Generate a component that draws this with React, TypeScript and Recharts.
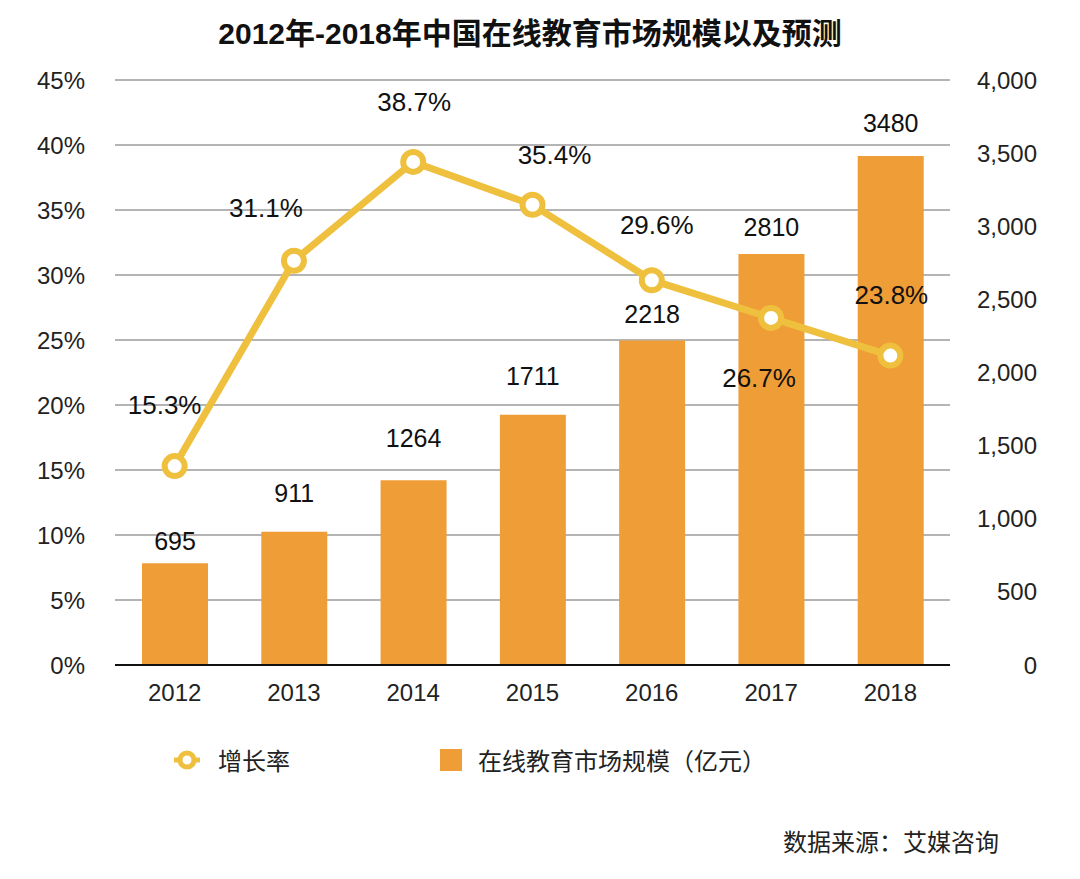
import React from 'react';
import { ComposedChart, Bar, Line, XAxis, YAxis, CartesianGrid, LabelList } from 'recharts';

// values
const years = ['2012', '2013', '2014', '2015', '2016', '2017', '2018'];
const marketSize = [695, 911, 1264, 1711, 2218, 2810, 3480]; // 亿元
const growthRate = [15.3, 31.1, 38.7, 35.4, 29.6, 26.7, 23.8]; // %
const rateTicks = [0, 5, 10, 15, 20, 25, 30, 35, 40, 45];
const sizeTicks = [0, 500, 1000, 1500, 2000, 2500, 3000, 3500, 4000];

// label nudges (layout only)
const rateLabelShift = [[-10, -61], [-28, -53], [1, -60], [22, -50], [5, -55], [-12, 60], [1, -61]];
const barLabelLift = [13, 30, 33, 30, 18, 18, 24];

const BAR_COLOR = '#EF9D36';
const LINE_COLOR = '#EEC03E';
const FONT = '"Liberation Sans", "Noto Sans CJK SC", Arial, sans-serif';

const data = years.map((year, i) => ({
  year,
  size: marketSize[i],
  rate: growthRate[i]
}));

const RateLabel = (props: any) => {
  const { x, y, index, value } = props;
  const [dx, dy] = rateLabelShift[index] || [0, -55];
  return (
    <text
      x={x + dx}
      y={y + dy}
      textAnchor="middle"
      dominantBaseline="central"
      fontSize={26}
      fill="#111"
      fontFamily={FONT}
    >
      {`${value}%`}
    </text>
  );
};

const SizeLabel = (props: any) => {
  const { x, y, width, index, value } = props;
  return (
    <text
      x={x + width / 2}
      y={y - barLabelLift[index]}
      textAnchor="middle"
      fontSize={25}
      fill="#111"
      fontFamily={FONT}
    >
      {value}
    </text>
  );
};

export default function App() {
  return (
    <div style={{ position: 'absolute', left: 0, top: 0, width: 1080, height: 879, background: '#fff', fontFamily: FONT }}>
      <div
        style={{
          position: 'absolute',
          top: 9,
          left: 0,
          width: 1060,
          textAlign: 'center',
          fontSize: 30,
          fontWeight: 'bold',
          color: '#111'
        }}
      >
        2012年-2018年中国在线教育市场规模以及预测
      </div>

      <ComposedChart
        width={1080}
        height={879}
        data={data}
        margin={{ top: 80, right: 0, bottom: 174, left: 0 }}
      >
        <CartesianGrid yAxisId="rate" vertical={false} stroke="#b4b4b4" strokeWidth={2} />
        <XAxis
          dataKey="year"
          height={40}
          tickLine={false}
          axisLine={{ stroke: '#111', strokeWidth: 2 }}
          tickMargin={13}
          tick={{ fill: '#222', fontSize: 24, fontFamily: FONT }}
        />
        <YAxis
          yAxisId="rate"
          orientation="left"
          width={115}
          domain={[0, 45]}
          ticks={rateTicks}
          tickFormatter={(v) => `${v}%`}
          axisLine={false}
          tickLine={false}
          tickMargin={24}
          tick={{ fill: '#222', fontSize: 24, fontFamily: FONT }}
        />
        <YAxis
          yAxisId="size"
          orientation="right"
          width={130}
          domain={[0, 4000]}
          ticks={sizeTicks}
          tickFormatter={(v) => v.toLocaleString('en-US')}
          axisLine={false}
          tickLine={false}
          tickMargin={81}
          tick={{ fill: '#222', fontSize: 24, fontFamily: FONT, textAnchor: 'end' }}
        />
        <Bar yAxisId="size" dataKey="size" fill={BAR_COLOR} barSize={66} isAnimationActive={false}>
          <LabelList dataKey="size" content={SizeLabel} />
        </Bar>
        <Line
          yAxisId="rate"
          dataKey="rate"
          type="linear"
          stroke={LINE_COLOR}
          strokeWidth={7}
          dot={{ r: 10, stroke: LINE_COLOR, strokeWidth: 6, fill: '#fff' }}
          activeDot={false}
          isAnimationActive={false}
        >
          <LabelList dataKey="rate" content={RateLabel} />
        </Line>
      </ComposedChart>

      {/* legend */}
      <div style={{ position: 'absolute', top: 742, left: 170, display: 'flex', alignItems: 'center', fontSize: 24, color: '#222' }}>
        <svg width={34} height={30} style={{ marginRight: 14 }}>
          <line x1={4} y1={15} x2={30} y2={15} stroke={LINE_COLOR} strokeWidth={5} />
          <circle cx={17} cy={15} r={7} stroke={LINE_COLOR} strokeWidth={5} fill="#fff" />
        </svg>
        <span>增长率</span>
      </div>
      <div style={{ position: 'absolute', top: 742, left: 440, display: 'flex', alignItems: 'center', fontSize: 24, color: '#222' }}>
        <span style={{ display: 'inline-block', width: 22, height: 22, background: BAR_COLOR, marginRight: 16 }} />
        <span>在线教育市场规模（亿元）</span>
      </div>

      <div style={{ position: 'absolute', top: 823, left: 783, fontSize: 24, color: '#222' }}>
        数据来源：艾媒咨询
      </div>
    </div>
  );
}
